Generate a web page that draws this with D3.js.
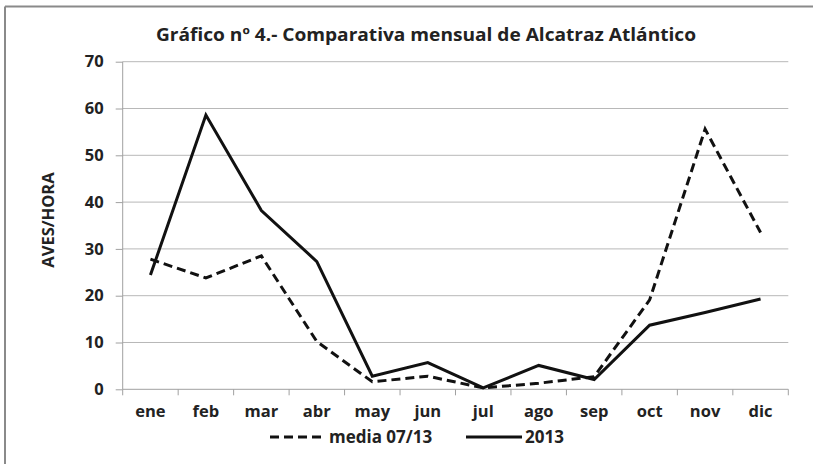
<!DOCTYPE html>
<html>
<head>
<meta charset="utf-8">
<script src="https://cdn.jsdelivr.net/npm/d3@7"></script>
<style>
  body { margin: 0; background: #fff; }
  text { font-family: "Open Sans", "DejaVu Sans", sans-serif; }
  .grid line { stroke: #b8b8b8; stroke-width: 1; }
  .axis path, .axis line { stroke: #a0a0a0; }
  .axis text { font-size: 16.5px; font-weight: bold; fill: #222; }
</style>
</head>
<body>
<div id="chart"></div>
<script>
// months
var months = ['ene','feb','mar','abr','may','jun','jul','ago','sep','oct','nov','dic']
// media 07/13 (dashed)
var media = [27.8, 23.8, 28.5, 10.2, 1.6, 2.8, 0.3, 1.3, 2.7, 19.1, 55.6, 33.5]
// 2013 (solid)
var y2013 = [24.4, 58.6, 38.2, 27.3, 2.8, 5.7, 0.3, 5.1, 2.1, 13.7, 16.4, 19.3]
var yTicks = [0,10,20,30,40,50,60,70]

var W = 813, H = 464
var margin = { top: 61.7, right: 25, bottom: 74.7, left: 122.7 }
var width = 788.3 - margin.left
var height = 389.3 - margin.top

var svg = d3.select('#chart').append('svg')
  .attr('width', W)
  .attr('height', H)

// frame
svg.append('line').attr('x1', 5).attr('x2', W).attr('y1', 6.5).attr('y2', 6.5)
  .attr('stroke', '#8a8a8a').attr('stroke-width', 2)
svg.append('line').attr('x1', 5).attr('x2', 5).attr('y1', 6.5).attr('y2', H)
  .attr('stroke', '#8a8a8a').attr('stroke-width', 2)

svg.append('text')
  .attr('x', 426)
  .attr('y', 41)
  .attr('text-anchor', 'middle')
  .attr('textLength', 540)
  .attr('lengthAdjust', 'spacingAndGlyphs')
  .style('font-size', '17px')
  .style('font-weight', 'bold')
  .style('fill', '#222')
  .text('Gráfico nº 4.- Comparativa mensual de Alcatraz Atlántico')

var g = svg.append('g')
  .attr('transform', 'translate(' + margin.left + ',' + margin.top + ')')

var xScale = d3.scaleBand().domain(months).range([0, width])
var yScale = d3.scaleLinear().domain([0, 70]).range([height, 0])

// gridlines
g.append('g').attr('class', 'grid')
  .selectAll('line')
  .data(yTicks.filter(function(d){ return d > 0 }))
  .enter().append('line')
  .attr('x1', 0).attr('x2', width)
  .attr('y1', function(d){ return yScale(d) })
  .attr('y2', function(d){ return yScale(d) })

// y axis
var yAxis = d3.axisLeft(yScale).tickValues(yTicks).tickSize(7).tickPadding(12)
g.append('g').attr('class', 'axis').call(yAxis)
  .call(function(a){ a.select('.domain').attr('d', 'M0,0V' + height) })

// x axis with tick marks at category boundaries
var xAxisG = g.append('g').attr('class', 'axis')
  .attr('transform', 'translate(0,' + height + ')')
xAxisG.append('line').attr('x1', 0).attr('x2', width).attr('y1', 0).attr('y2', 0)
  .attr('stroke', '#a0a0a0')
xAxisG.selectAll('.tk')
  .data(d3.range(months.length + 1))
  .enter().append('line')
  .attr('x1', function(i){ return i * xScale.step() })
  .attr('x2', function(i){ return i * xScale.step() })
  .attr('y1', 0).attr('y2', 6)
  .attr('stroke', '#a0a0a0')
xAxisG.selectAll('.lbl')
  .data(months)
  .enter().append('text')
  .attr('x', function(d){ return xScale(d) + xScale.bandwidth() / 2 })
  .attr('y', 28)
  .attr('text-anchor', 'middle')
  .text(function(d){ return d })

// y label
svg.append('text')
  .attr('transform', 'translate(54,220) rotate(-90)')
  .attr('text-anchor', 'middle')
  .style('font-size', '16.5px')
  .style('font-weight', 'bold')
  .style('fill', '#222')
  .text('AVES/HORA')

var line = d3.line()
  .x(function(d, i){ return xScale(months[i]) + xScale.bandwidth() / 2 })
  .y(function(d){ return yScale(d) })

g.append('path').datum(media)
  .attr('d', line)
  .attr('fill', 'none')
  .attr('stroke', '#111')
  .attr('stroke-width', 3)
  .attr('stroke-dasharray', '9,5')

g.append('path').datum(y2013)
  .attr('d', line)
  .attr('fill', 'none')
  .attr('stroke', '#111')
  .attr('stroke-width', 3)

// legend
var leg = svg.append('g').attr('transform', 'translate(0,437)')
leg.append('line').attr('x1', 270).attr('x2', 325).attr('y1', 0).attr('y2', 0)
  .attr('stroke', '#111').attr('stroke-width', 3).attr('stroke-dasharray', '9,5')
leg.append('text').attr('x', 329).attr('y', 6)
  .style('font-size', '17px').style('font-weight', 'bold').style('fill', '#222')
  .text('media 07/13')
leg.append('line').attr('x1', 466).attr('x2', 522).attr('y1', 0).attr('y2', 0)
  .attr('stroke', '#111').attr('stroke-width', 3)
leg.append('text').attr('x', 525).attr('y', 6)
  .style('font-size', '17px').style('font-weight', 'bold').style('fill', '#222')
  .text('2013')
</script>
</body>
</html>
